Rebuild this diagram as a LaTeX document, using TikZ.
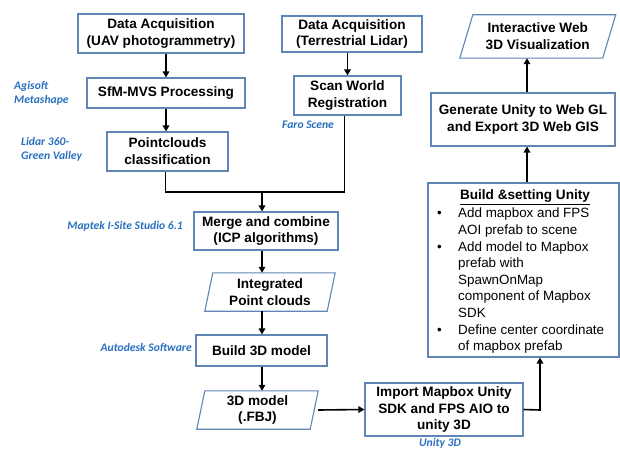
\documentclass[tikz,border=0pt]{standalone}
\usepackage{fontspec}
\setmainfont{Liberation Sans}
\newfontfamily\lblfont{Carlito}
\usetikzlibrary{arrows.meta}
\definecolor{boxblue}{RGB}{96,134,182}
\definecolor{lblblue}{RGB}{40,112,190}
\newcommand{\paraframe}[2]{\draw[boxblue,line width=1.1pt,fill=white] ([xshift=#2]#1.north west) -- ([xshift=#2]#1.north east) -- ([xshift=-#2]#1.south east) -- ([xshift=-#2]#1.south west) -- cycle;}
\begin{document}
\begin{tikzpicture}[x=1pt,y=-1pt,
  box/.style={draw=boxblue,line width=1.1pt,fill=white,inner sep=0pt,align=center,font=\fontsize{13.6}{16.8}\selectfont\bfseries},
  para/.style={inner sep=0pt,align=center,font=\fontsize{13.6}{16.8}\selectfont\bfseries},
  lbl/.style={text=lblblue,font=\lblfont\fontsize{11.6}{14}\selectfont\bfseries\itshape,inner sep=0pt},
  conn/.style={line width=1.6pt,-{Triangle[length=6pt,width=6.5pt]}},
  wire/.style={line width=1.6pt},
  plaintext/.style={inner sep=0pt,font=\fontsize{13.4}{16.6}\selectfont}
]
\useasboundingbox (0,0) rectangle (620,449);

% left column
\node[box,minimum width=166pt,minimum height=39pt] (uav) at (161,33.5) {Data Acquisition\\(UAV photogrammetry)};
\node[box,minimum width=158pt,minimum height=30pt] (sfm) at (166,93) {SfM-MVS Processing};
\node[box,minimum width=121pt,minimum height=39pt] (pcc) at (167.5,151.5) {Pointclouds\\classification};

% middle column
\node[box,minimum width=140pt,minimum height=36pt] (tls) at (352,34) {Data Acquisition\\(Terrestrial Lidar)};
\node[box,minimum width=107pt,minimum height=39pt] (swr) at (347.5,95.5) {Scan World\\Registration};

\node[box,minimum width=144pt,minimum height=38pt] (merge) at (266,231) {Merge and combine\\(ICP algorithms)};
\node[para,minimum width=122pt,minimum height=38pt] (integ) at (270,292) {};
\paraframe{integ}{4pt}
\node[para] at (integ) {Integrated\\Point clouds};
\node[box,minimum width=131pt,minimum height=31pt] (b3d) at (261.5,350.5) {Build 3D model};
\node[para,minimum width=113pt,minimum height=38pt] (model) at (257.5,410) {};
\paraframe{model}{4pt}
\node[para] at (model) {3D model\\(.FBJ)};
\node[box,minimum width=158pt,minimum height=53pt] (import) at (444,409.5) {Import Mapbox Unity\\SDK and FPS AIO to\\unity 3D};

% right column
\node[para,minimum width=142.5pt,minimum height=43pt] (web) at (537.75,36.5) {};
\paraframe{web}{6.5pt}
\node[para] at (web) {Interactive Web\\3D Visualization};
\node[box,minimum width=184pt,minimum height=53pt] (gen) at (523,119.5) {Generate Unity to Web GL\\and Export 3D Web GIS};
\node[draw=boxblue,line width=1.1pt,inner sep=0pt,minimum width=191pt,minimum height=174pt] (build) at (523.5,270) {};
\node[inner sep=0pt,font=\fontsize{13.6}{16.6}\selectfont\bfseries] (buildtitle) at (525,197) {\underline{Build \&setting Unity}};
\node[plaintext,anchor=north west] (bullets) at (437,206) {%
\begin{tabular}{@{}l@{}l@{}}
\makebox[21pt][l]{\textbullet} & Add mapbox and FPS\\
 & AOI prefab to scene\\
\makebox[21pt][l]{\textbullet} & Add model to Mapbox\\
 & prefab with\\
 & SpawnOnMap\\
 & component of Mapbox\\
 & SDK\\
\makebox[21pt][l]{\textbullet} & Define center coordinate\\
 & of mapbox prefab
\end{tabular}};

% labels
\node[lbl,anchor=west,align=left] (lagi) at (14,93) {Agisoft\\Metashape};
\node[lbl,anchor=west,align=left] (llid) at (21,149) {Lidar 360-\\Green Valley};
\node[lbl] (lfaro) at (308,125) {Faro Scene};
\node[lbl,anchor=east] (lmap) at (183,226) {Maptek I-Site Studio 6.1};
\node[lbl,anchor=east] (laut) at (192,347) {Autodesk Software};
\node[lbl] (luni) at (440,443.5) {Unity 3D};

% connectors
\coordinate (j) at (262,192);
\coordinate (k) at (540,410);
\draw[conn] (uav.south -| sfm.north) -- (sfm.north);
\draw[conn] (sfm.south) -- (sfm.south |- pcc.north);
\draw[conn] (tls.south -| swr.north) -- (swr.north);
\draw[wire] ([xshift=-2pt]pcc.south) |- (j) -| ([xshift=-3pt]swr.south);
\draw[conn] (j) -- (j |- merge.north);
\draw[conn] (merge.south -| j) -- (integ.north -| j);
\draw[conn] (integ.south -| j) -- (b3d.north -| j);
\draw[conn] (b3d.south -| j) -- (model.north -| j);
\draw[conn] ([xshift=4pt]model.east) -- (import.west);
\draw[conn] (import.east) -- (k) -- (k |- build.south);
\draw[conn] (build.north -| 527,0) -- (gen.south -| 527,0);
\draw[conn] (gen.north -| 527,0) -- (web.south -| 527,0);
\end{tikzpicture}
\end{document}
